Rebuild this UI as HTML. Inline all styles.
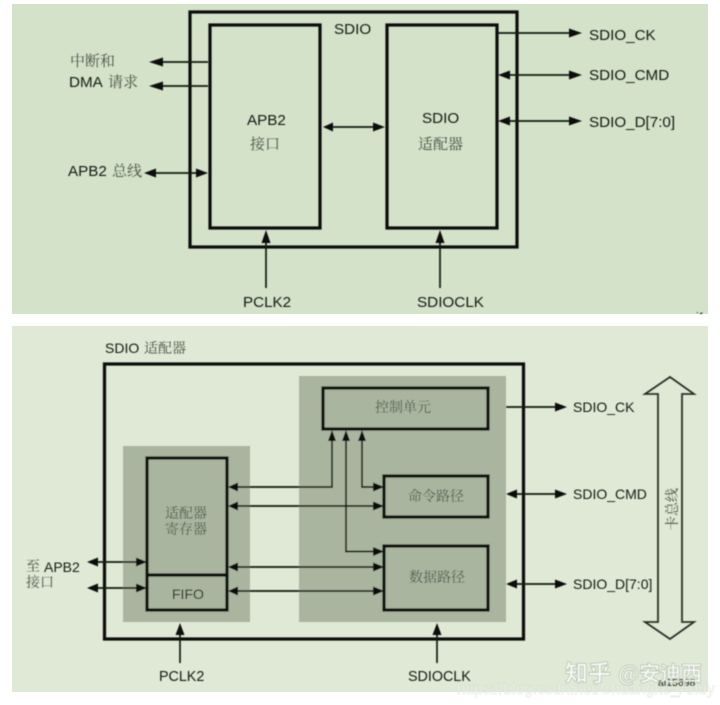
<!DOCTYPE html>
<html><head><meta charset="utf-8">
<style>
html,body{margin:0;padding:0;background:#fff;width:720px;height:705px;overflow:hidden}
svg{display:block}
text{white-space:pre}
.s{font-family:"Liberation Sans","Noto Sans CJK SC",sans-serif;font-size:15.2px;fill:#161b15}
.m{font-size:14px}
.c{font-family:"Noto Serif CJK SC","Liberation Serif",serif;font-size:15px;fill:#4a5247}
.c14{font-size:14px}
.b{fill:none;stroke:#0a0d09;stroke-width:3.2}
.l{fill:none;stroke:#161a14;stroke-width:1.7}
.h{fill:#0a0d09}
</style></head>
<body>
<svg width="720" height="705" viewBox="0 0 720 705" xmlns="http://www.w3.org/2000/svg">
<defs>
<filter id="bl" x="-2%" y="-2%" width="104%" height="104%"><feGaussianBlur stdDeviation="0.45"/></filter>
<filter id="bw" x="-5%" y="-20%" width="110%" height="140%"><feGaussianBlur stdDeviation="0.6"/></filter>
<clipPath id="tc"><rect x="0" y="0" width="720" height="314"/></clipPath>
</defs>
<rect x="12" y="4" width="696" height="310" fill="#d4e2c9"/>
<rect x="12" y="326" width="696" height="366" fill="#dfe9d5"/>
<g filter="url(#bl)">
<!-- top panel -->
<rect class="b" x="190" y="12" width="327" height="235"/>
<rect class="b" x="210" y="25" width="110" height="203"/>
<rect class="b" x="387" y="25" width="110" height="203"/>
<path class="l" d="M160 62H208M160 86H208M154 173H198M333 127H376M266 288V240M440 288V240M498 33H571M509 75H571M509 121H571"/>
<path class="h" d="M149 62l14-4.500v9zM149 86l14-4.500v9zM144 173l12-4.500v9zM208 173l-12-4.500v9zM323 127l10-4.500v9zM385 127l-12-4.500v9zM266 230l-4.500 13h9zM440 230l-4.500 13h9zM582 33l-13-4.500v9zM498 75l12-4.500v9zM582 75l-13-4.500v9zM498 121l12-4.500v9zM582 121l-13-4.500v9z"/>
<text class="c" x="70" y="66">中断和</text>
<text class="s" x="69" y="87">DMA</text><text class="c" x="108" y="87">请求</text>
<text class="s" x="68" y="176">APB2</text><text class="c" x="112" y="176">总线</text>
<text class="s" x="334" y="34">SDIO</text>
<text class="s" x="247" y="125">APB2</text><text class="c" x="250" y="149">接口</text>
<text class="s" x="422" y="123">SDIO</text><text class="c" x="418" y="149">适配器</text>
<text class="s" x="243" y="307">PCLK2</text>
<text class="s" x="417" y="307" textLength="67" lengthAdjust="spacingAndGlyphs">SDIOCLK</text>
<text class="s" x="589" y="40">SDIO_CK</text>
<text class="s" x="589" y="80">SDIO_CMD</text>
<text class="s" x="589" y="127">SDIO_D[7:0]</text>
<g clip-path="url(#tc)"><text class="s" x="690" y="320" style="font-size:11px">ai1</text></g>
<!-- bottom panel -->
<rect class="b" x="104.500" y="364" width="419" height="275"/>
<rect x="123" y="446" width="127" height="176" fill="#a9b59f"/>
<rect x="299" y="376" width="207" height="246" fill="#a9b59f"/>
<rect class="b" x="323" y="388" width="165" height="41"/>
<rect class="b" x="147" y="458" width="80" height="152"/>
<path class="b" d="M147 575H227"/>
<rect class="b" x="384" y="476" width="104" height="41"/>
<rect class="b" x="384" y="546" width="104" height="64"/>
<path class="l" d="M238 487H332V440M238 506H374M238 567H374M238 591H374M346 440V551.500H374M362 440V487H374M97 562H137M97 588H137M180 663V634M437 663V634M506 407H556M517 494H556M517 584H556"/>
<path class="h" d="M228 487l10-4.500v9zM228 506l10-4.500v9zM228 567l10-4.500v9zM228 591l10-4.500v9zM332 430l-4 11h8zM346 430l-4 11h8zM362 430l-4 11h8zM384 487l-11-4.500v9zM384 506l-11-4.500v9zM384 551.500l-11-4.500v9zM384 567l-11-4.500v9zM384 591l-11-4.500v9zM87 562l11-4.500v9zM147 562l-11-4.500v9zM87 588l11-4.500v9zM147 588l-11-4.500v9zM180 623l-4.500 12h9zM437 623l-4.500 12h9zM567 407l-12-4.500v9zM506 494l11-4.500v9zM567 494l-12-4.500v9zM506 584l11-4.500v9zM567 584l-12-4.500v9z"/>
<path fill="none" stroke="#2b3029" stroke-width="1.800" d="M670 377L694 394H682V622H694L670 639L645 622H658V394H645Z"/>
<text class="s m" x="105" y="353">SDIO</text><text class="c c14" x="144" y="353">适配器</text>
<text class="c c14" x="375" y="412">控制单元</text>
<text class="c c14" x="408" y="501">命令路径</text>
<text class="c c14" x="409" y="582">数据路径</text>
<text class="c c14" x="165" y="518">适配器</text>
<text class="c c14" x="165" y="534">寄存器</text>
<text class="s m" x="172" y="599">FIFO</text>
<text class="c c14" x="26" y="571">至</text><text class="s m" x="44" y="572">APB2</text>
<text class="c c14" x="26" y="587">接口</text>
<text class="s m" x="159" y="681" style="font-size:14.300px">PCLK2</text>
<text class="s m" x="408" y="681" style="font-size:14.300px">SDIOCLK</text>
<text class="s m" x="573" y="412">SDIO_CK</text>
<text class="s m" x="573" y="499">SDIO_CMD</text>
<text class="s m" x="573" y="589">SDIO_D[7:0]</text>
<text class="c c14" transform="translate(677 530) rotate(-90)">卡总线</text>
<text class="s" x="658" y="686" style="font-size:10.500px">ai15698</text>
</g>
<!-- watermark -->
<g filter="url(#bw)">
<text x="565" y="681" font-family="'Noto Sans CJK SC',sans-serif" font-size="23" font-weight="700" fill="#ffffff" fill-opacity=".78" stroke="#7f8979" stroke-opacity=".55" stroke-width=".7">知乎</text>
<text x="618" y="681" font-family="'Noto Sans CJK SC',sans-serif" font-size="21" font-weight="700" fill="#ffffff" fill-opacity=".78" stroke="#7f8979" stroke-opacity=".55" stroke-width=".7">@安迪西</text>
<text x="457" y="694" font-family="'Liberation Sans',sans-serif" font-size="15.500" fill="#ffffff" fill-opacity=".65" stroke="#a9b29f" stroke-opacity=".45" stroke-width=".4">https://blog.csdn.net/Chuangke_Andy</text>
</g>
</svg>
</body></html>
